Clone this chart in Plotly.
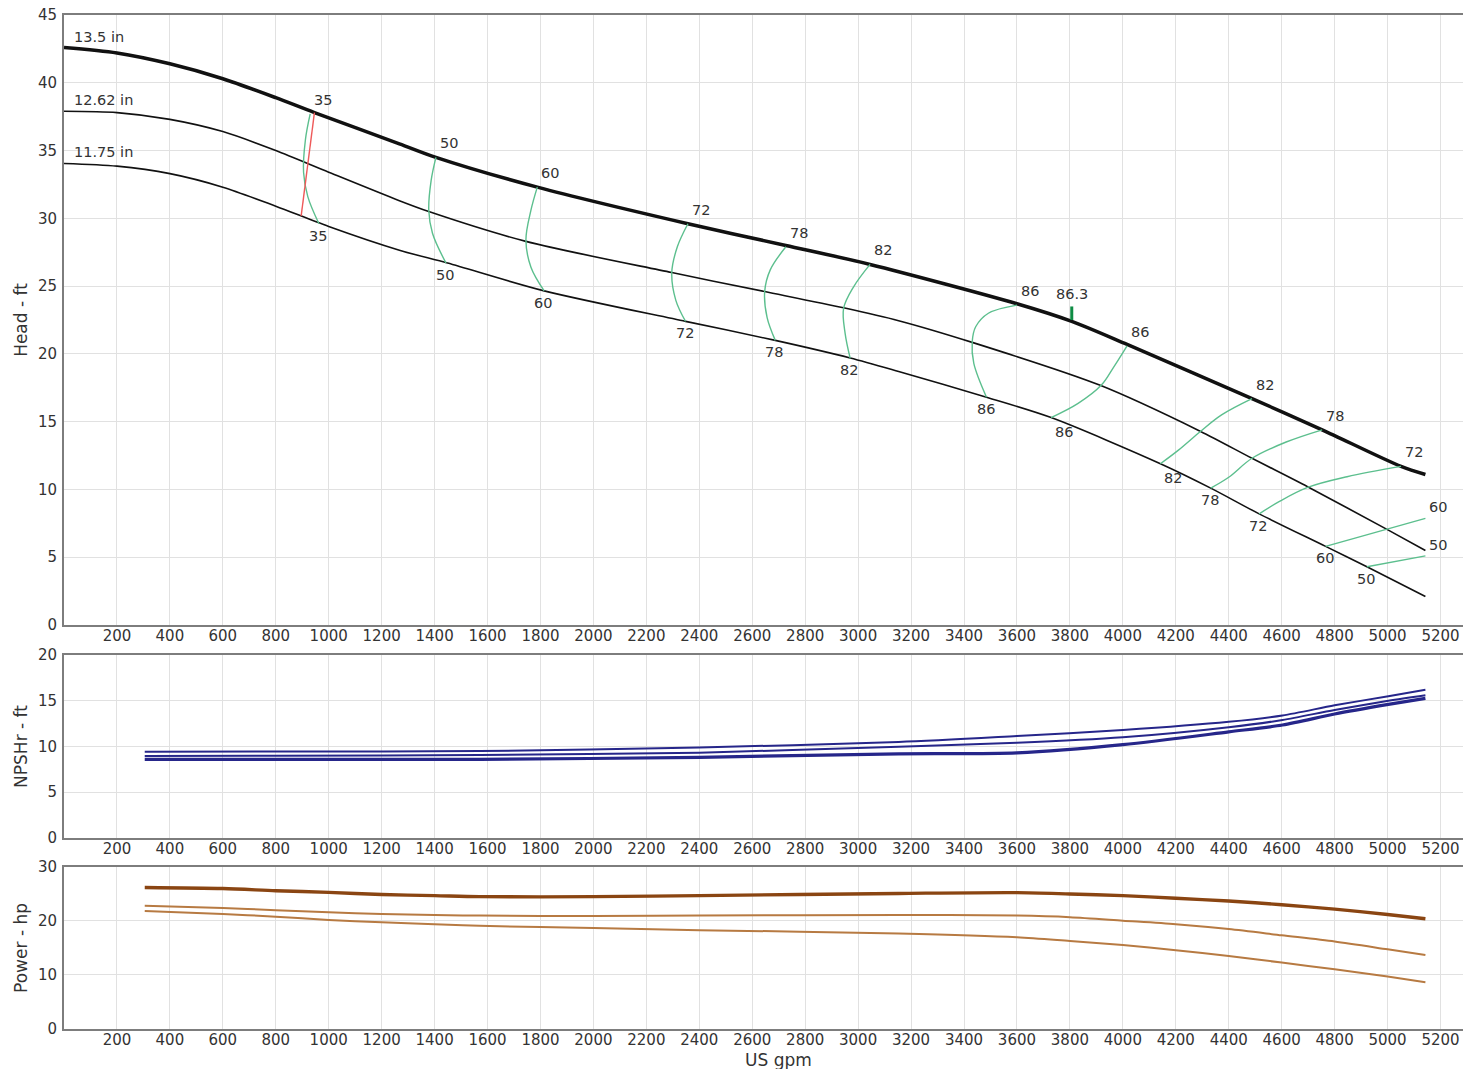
import plotly.graph_objects as go
import numpy as np

# ---------------- tick labels ----------------
x_ticks = list(range(200, 5201, 200))
head_ticks = [0, 5, 10, 15, 20, 25, 30, 35, 40, 45]
npsh_ticks = [0, 5, 10, 15, 20]
power_ticks = [0, 10, 20, 30]

# ---------------- head curves (US gpm, ft) ----------------
diam_labels = ["13.5 in", "12.62 in", "11.75 in"]

q_135 = [0, 200, 400, 600, 800, 946, 1267, 1405, 1788, 2357, 2727, 3045, 3600, 3807, 4016, 4488, 4753, 5051, 5143]
h_135 = [42.6, 42.2, 41.4, 40.3, 38.9, 37.8, 35.5, 34.5, 32.3, 29.6, 28.0, 26.6, 23.7, 22.4, 20.7, 16.7, 14.4, 11.7, 11.1]

q_1262 = [0, 200, 400, 600, 800, 1000, 1267, 1378, 1745, 2296, 2647, 2945, 3153, 3431, 3912, 4292, 4488, 4698, 5003, 5143]
h_1262 = [37.9, 37.8, 37.3, 36.4, 35.0, 33.4, 31.3, 30.5, 28.3, 26.0, 24.6, 23.4, 22.45, 20.85, 17.7, 14.3, 12.3, 10.2, 7.0, 5.5]

q_1175 = [0, 200, 400, 600, 800, 1000, 1267, 1449, 1814, 2348, 2687, 2970, 3153, 3485, 3729, 4142, 4332, 4515, 4766, 4922, 5143]
h_1175 = [34.05, 33.85, 33.3, 32.3, 30.9, 29.4, 27.65, 26.7, 24.65, 22.4, 21.0, 19.7, 18.7, 16.8, 15.3, 11.9, 10.1, 8.2, 5.8, 4.3, 2.1]

# ---------------- efficiency iso-lines (%) ----------------
eff_35_q = [930, 912, 905, 921, 963]
eff_35_h = [37.7, 35.8, 33.4, 31.6, 29.6]
eff_50_q = [1405, 1387, 1378, 1392, 1443]
eff_50_h = [34.5, 32.8, 30.6, 28.9, 26.7]
eff_60_q = [1788, 1764, 1745, 1764, 1814]
eff_60_h = [32.3, 30.6, 28.4, 26.4, 24.65]
eff_72_q = [2357, 2317, 2296, 2311, 2348]
eff_72_h = [29.6, 27.9, 26.0, 23.97, 22.4]
eff_78_q = [2727, 2668, 2647, 2656, 2687]
eff_78_h = [27.9, 26.2, 24.6, 22.7, 21.0]
eff_82_q = [3045, 2983, 2945, 2951, 2970]
eff_82_h = [26.6, 24.95, 23.35, 21.5, 19.67]
eff_86a_q = [3600, 3492, 3444, 3431, 3437, 3485]
eff_86a_h = [23.6, 23.0, 22.0, 20.9, 19.3, 16.8]
eff_86b_q = [4016, 3966, 3919, 3831, 3729]
eff_86b_h = [20.6, 19.05, 17.7, 16.35, 15.3]
eff_82b_q = [4488, 4373, 4292, 4210, 4142]
eff_82b_h = [16.7, 15.5, 14.26, 12.9, 11.9]
eff_78b_q = [4753, 4617, 4488, 4400, 4332]
eff_78b_h = [14.4, 13.5, 12.3, 10.9, 10.1]
eff_72b_q = [5051, 4847, 4698, 4590, 4515]
eff_72b_h = [11.7, 10.94, 10.15, 9.1, 8.2]
eff_60b_q = [5143, 4766]
eff_60b_h = [7.87, 5.8]
eff_50b_q = [5143, 4922]
eff_50b_h = [5.1, 4.3]

# minimum-flow line (red): flow at the 13.5 in curve and at the 11.75 in curve
minflow_q_top = 946
minflow_q_bottom = 896

# best efficiency point
bep_q = 3807
bep_eff = "86.3"

# ---------------- NPSHr (ft) ----------------
npsh_q = [305, 800, 1570, 2400, 3153, 3600, 4000, 4400, 4603, 4800, 5003, 5143]
npsh_a = [9.43, 9.45, 9.5, 9.9, 10.5, 11.15, 11.8, 12.7, 13.4, 14.5, 15.5, 16.2]
npsh_b = [8.96, 9.0, 9.07, 9.33, 9.98, 10.4, 11.0, 12.1, 12.9, 14.0, 15.0, 15.6]
npsh_c = [8.6, 8.6, 8.6, 8.82, 9.2, 9.3, 10.2, 11.6, 12.35, 13.55, 14.6, 15.27]

# ---------------- Power (hp) ----------------
pw_q = [305, 600, 800, 1000, 1200, 1400, 1570, 2000, 2400, 3153, 3600, 3800, 4000, 4200, 4400, 4600, 4800, 5000, 5143]
pw_135 = [26.2, 26.0, 25.6, 25.3, 24.9, 24.7, 24.5, 24.5, 24.7, 25.1, 25.25, 25.0, 24.7, 24.2, 23.7, 23.0, 22.2, 21.2, 20.4]
pw_1262 = [22.8, 22.4, 22.0, 21.6, 21.3, 21.1, 21.0, 20.9, 21.0, 21.1, 21.0, 20.7, 20.06, 19.4, 18.5, 17.35, 16.2, 14.75, 13.7]
pw_1175 = [21.85, 21.3, 20.8, 20.2, 19.75, 19.4, 19.1, 18.7, 18.3, 17.7, 17.0, 16.3, 15.55, 14.6, 13.5, 12.3, 11.05, 9.7, 8.65]

# ---------------- styling ----------------
FONT = "DejaVu Sans, Liberation Sans, Arial, sans-serif"
TXT = "#333333"
GREEN = "#5cbf8e"
NAVY = "#26268a"
BROWN_D = "#8a4512"
BROWN_L = "#b77a42"
LBL = 14.5

fig = go.Figure()

# head curves
for q, h, w in [(q_135, h_135, 3.5), (q_1262, h_1262, 1.6), (q_1175, h_1175, 1.6)]:
    fig.add_trace(go.Scatter(x=q, y=h, mode="lines", line=dict(color="#111111", width=w, shape="spline", smoothing=0.8),
                             xaxis="x", yaxis="y", hoverinfo="skip"))

# efficiency lines
eff_sets = [
    ("35", eff_35_q, eff_35_h, "tb"), ("50", eff_50_q, eff_50_h, "tb"), ("60", eff_60_q, eff_60_h, "tb"),
    ("72", eff_72_q, eff_72_h, "tb"), ("78", eff_78_q, eff_78_h, "tb"), ("82", eff_82_q, eff_82_h, "tb"),
    ("86", eff_86a_q, eff_86a_h, "tb"), ("86", eff_86b_q, eff_86b_h, "tB"), ("82", eff_82b_q, eff_82b_h, "tB"),
    ("78", eff_78b_q, eff_78b_h, "tb"), ("72", eff_72b_q, eff_72b_h, "tb"),
    ("60", eff_60b_q, eff_60b_h, "rb"), ("50", eff_50b_q, eff_50b_h, "rb"),
]
annotations = []
for lab, q, h, mode in eff_sets:
    fig.add_trace(go.Scatter(x=q, y=h, mode="lines", line=dict(color=GREEN, width=1.4, shape="spline", smoothing=1.0),
                             xaxis="x", yaxis="y", hoverinfo="skip"))
    if mode[0] == "t":
        annotations.append(dict(x=q[0], y=h[0], xref="x", yref="y", text=lab, showarrow=False, xshift=13, yshift=14))
    else:
        annotations.append(dict(x=q[0], y=h[0], xref="x", yref="y", text=lab, showarrow=False, xshift=13, yshift=11))
    if mode[1] == "b":
        annotations.append(dict(x=q[-1], y=h[-1], xref="x", yref="y", text=lab, showarrow=False, xshift=-1, yshift=-12))
    else:
        annotations.append(dict(x=q[-1], y=h[-1], xref="x", yref="y", text=lab, showarrow=False, xshift=13, yshift=-14))

# minimum flow line
mf_x = [minflow_q_top, minflow_q_bottom]
mf_y = [float(np.interp(minflow_q_top, q_135, h_135)), float(np.interp(minflow_q_bottom, q_1175, h_1175))]
fig.add_trace(go.Scatter(x=mf_x, y=mf_y, mode="lines", line=dict(color="#ee5a5a", width=1.4),
                         xaxis="x", yaxis="y", hoverinfo="skip"))

# BEP tick
bep_h = float(np.interp(bep_q, q_135, h_135))
fig.add_trace(go.Scatter(x=[bep_q, bep_q], y=[bep_h + 0.1, bep_h + 1.1], mode="lines",
                         line=dict(color="#0e8c44", width=3), xaxis="x", yaxis="y", hoverinfo="skip"))
annotations.append(dict(x=bep_q, y=bep_h + 1.1, xref="x", yref="y", text=bep_eff, showarrow=False, yshift=12))

# diameter labels
for lab, q, h in [(diam_labels[0], q_135, h_135), (diam_labels[1], q_1262, h_1262), (diam_labels[2], q_1175, h_1175)]:
    annotations.append(dict(x=q[0], y=h[0], xref="x", yref="y", text=lab, showarrow=False,
                            xanchor="left", xshift=8, yshift=11))

# NPSH curves
for y, w in [(npsh_a, 2), (npsh_b, 2), (npsh_c, 3.2)]:
    fig.add_trace(go.Scatter(x=npsh_q, y=y, mode="lines", line=dict(color=NAVY, width=w, shape="spline", smoothing=0.8),
                             xaxis="x2", yaxis="y2", hoverinfo="skip"))

# power curves
for y, w, c in [(pw_135, 3.4, BROWN_D), (pw_1262, 2, BROWN_L), (pw_1175, 2, BROWN_L)]:
    fig.add_trace(go.Scatter(x=pw_q, y=y, mode="lines", line=dict(color=c, width=w, shape="spline", smoothing=0.8),
                             xaxis="x3", yaxis="y3", hoverinfo="skip"))

annotations = [dict(font=dict(size=LBL, color=TXT), **a) for a in annotations]
annotations.append(dict(x=0.511, y=-0.0185, xref="paper", yref="paper", text="US gpm", showarrow=False,
                        yanchor="top", font=dict(size=17, color=TXT)))

xcommon = dict(range=[0, 5285], tickvals=x_ticks, ticktext=[str(v) for v in x_ticks],
               showgrid=True, gridcolor="#e1e1e1", gridwidth=1, zeroline=False,
               showline=True, linecolor="#7d7d7d", linewidth=2, mirror=True, automargin=False,
               ticks="", tickfont=dict(size=15, color=TXT), ticklabelstandoff=-4, ticklabeloverflow="allow")
ycommon = dict(showgrid=True, gridcolor="#e1e1e1", gridwidth=1, zeroline=False,
               showline=True, linecolor="#7d7d7d", linewidth=2, mirror=False, automargin=False,
               ticks="", tickfont=dict(size=15, color=TXT), ticklabelstandoff=2, ticklabeloverflow="allow")
ytitle = dict(font=dict(size=17, color=TXT), standoff=6)

fig.update_layout(
    width=1463, height=1069,
    margin=dict(l=64, r=0, t=15, b=40),
    paper_bgcolor="white", plot_bgcolor="white",
    showlegend=False,
    font=dict(family=FONT, size=15, color=TXT),
    xaxis=dict(domain=[0, 1], anchor="y", **xcommon),
    yaxis=dict(domain=[0.3984, 1.0], anchor="x", range=[0, 45], tickvals=head_ticks,
               title=dict(text="Head - ft", **ytitle), **ycommon),
    xaxis2=dict(domain=[0, 1], anchor="y2", **xcommon),
    yaxis2=dict(domain=[0.1884, 0.3688], anchor="x2", range=[0, 20], tickvals=npsh_ticks,
                title=dict(text="NPSHr - ft", **ytitle), **ycommon),
    xaxis3=dict(domain=[0, 1], anchor="y3", **xcommon),
    yaxis3=dict(domain=[0, 0.1598], anchor="x3", range=[0, 30], tickvals=power_ticks,
                title=dict(text="Power - hp", **ytitle), **ycommon),
    annotations=annotations,
)

# remove the page's default body margin so the figure fills the window exactly
fig.write_html("out.html", config={"displayModeBar": False},
               post_script="document.body.style.margin='0';document.documentElement.style.overflow='hidden';")
